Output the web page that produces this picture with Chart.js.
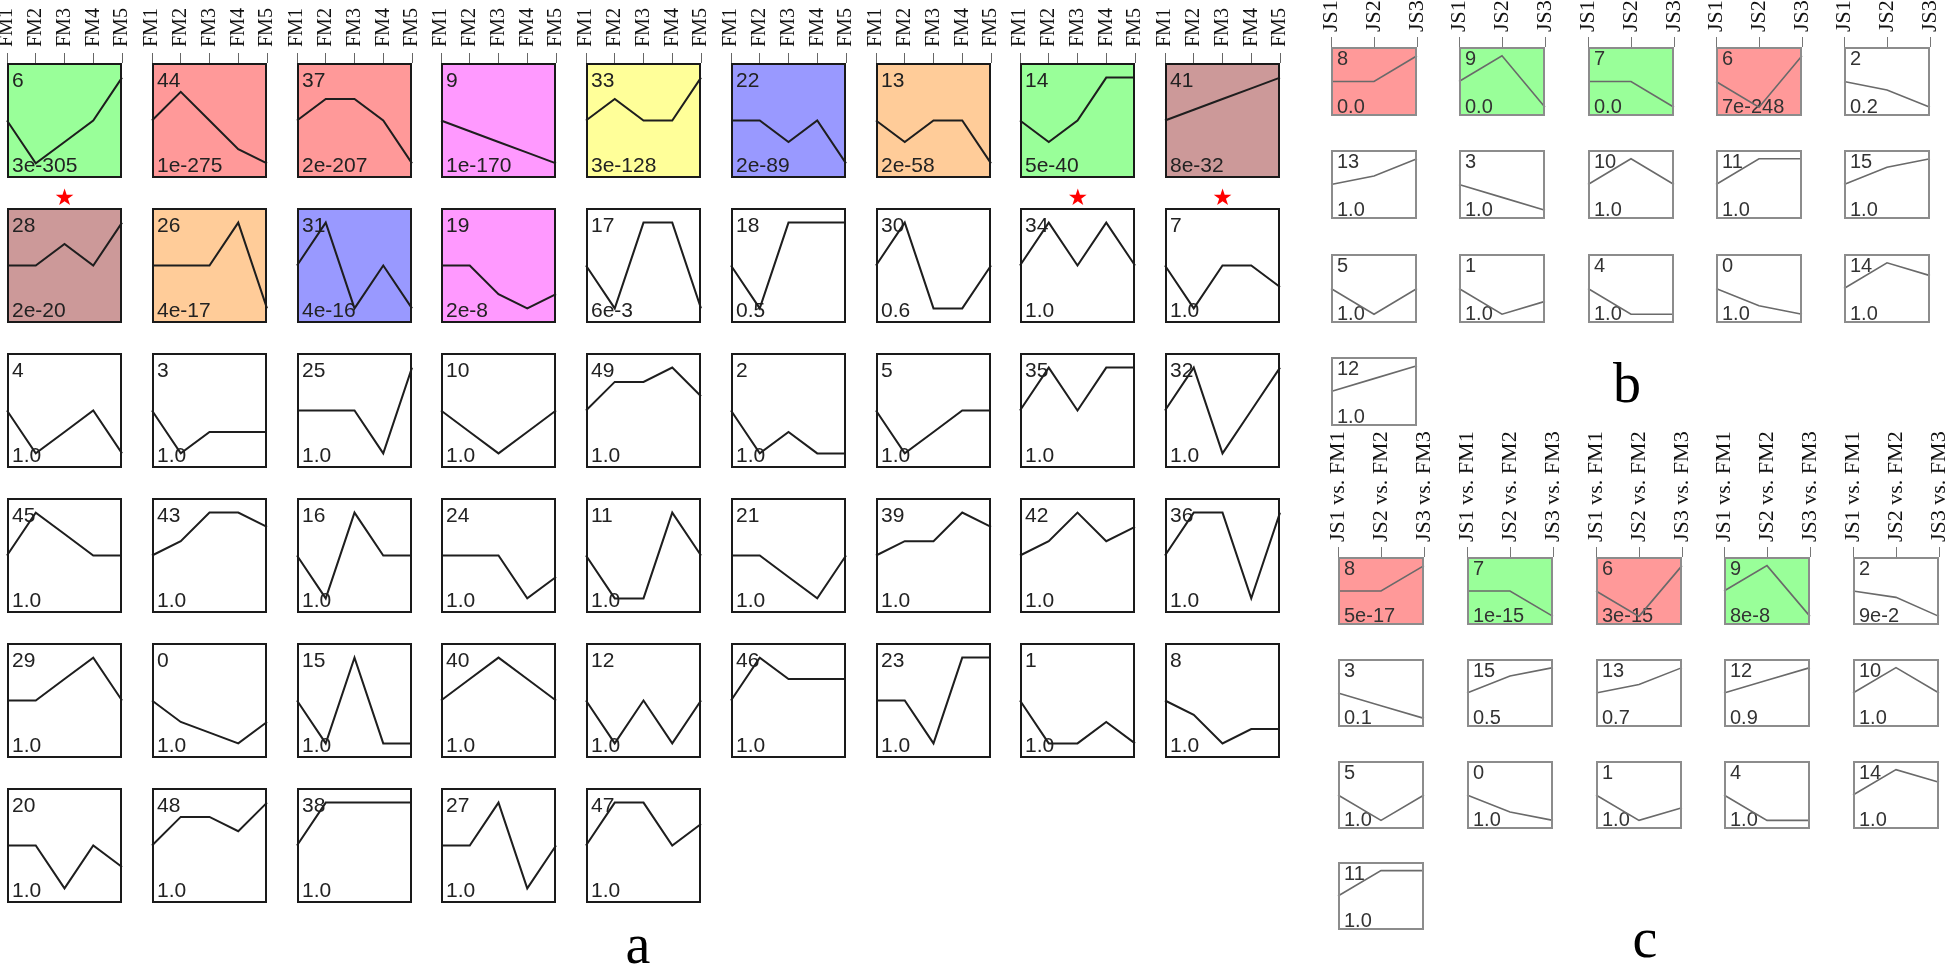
<!DOCTYPE html>
<html>
<head>
<meta charset="utf-8">
<title>STEM profiles</title>
<script src="https://cdn.jsdelivr.net/npm/chart.js@4.4.1/dist/chart.umd.min.js"></script>
<style>
  html, body { margin: 0; padding: 0; background: #fff; }
  #page { position: relative; width: 1946px; height: 971px; overflow: hidden; }
  #page canvas { position: absolute; }
  .star { position: absolute; color: #ff0000; font: 23px "DejaVu Sans", sans-serif; line-height: 1; transform: translate(-50%, -50%); }
  .panel-label { position: absolute; font-family: "Liberation Serif", "Times New Roman", serif; font-size: 56px; line-height: 1; transform: translateX(-50%); }
</style>
</head>
<body>
<div id="page"></div>
<script>
// ---- panel a: 5 time points, 50 model profiles ----
const aTimes = ["FM1", "FM2", "FM3", "FM4", "FM5"];
const aIds = [
  6, 44, 37, 9, 33, 22, 13, 14, 41,
  28, 26, 31, 19, 17, 18, 30, 34, 7,
  4, 3, 25, 10, 49, 2, 5, 35, 32,
  45, 43, 16, 24, 11, 21, 39, 42, 36,
  29, 0, 15, 40, 12, 46, 23, 1, 8,
  20, 48, 38, 27, 47
];
const aPvals = [
  "3e-305", "1e-275", "2e-207", "1e-170", "3e-128", "2e-89", "2e-58", "5e-40", "8e-32",
  "2e-20", "4e-17", "4e-16", "2e-8", "6e-3", "0.5", "0.6", "1.0", "1.0",
  "1.0", "1.0", "1.0", "1.0", "1.0", "1.0", "1.0", "1.0", "1.0",
  "1.0", "1.0", "1.0", "1.0", "1.0", "1.0", "1.0", "1.0", "1.0",
  "1.0", "1.0", "1.0", "1.0", "1.0", "1.0", "1.0", "1.0", "1.0",
  "1.0", "1.0", "1.0", "1.0", "1.0"
];
const aProfiles = [
  [0,-2,-1,0,2], [0,2,0,-2,-3], [0,1,1,0,-2], [0,-1,-2,-3,-4], [0,1,0,0,2], [0,0,-1,0,-2], [0,-1,0,0,-2], [0,-1,0,2,2], [0,1,2,3,4],
  [0,0,1,0,2], [0,0,0,2,-2], [0,1,-1,0,-1], [0,0,-2,-3,-2], [0,-1,1,1,-1], [0,-1,1,1,1], [0,1,-1,-1,0], [0,1,0,1,0], [0,-2,0,0,-1],
  [0,-2,-1,0,-2], [0,-2,-1,-1,-1], [0,0,0,-1,1], [0,-1,-2,-1,0], [0,2,2,3,1], [0,-2,-1,-2,-2], [0,-2,-1,0,0], [0,1,0,1,1], [0,1,-1,0,1],
  [0,2,1,0,0], [0,1,3,3,2], [0,-1,1,0,0], [0,0,0,-2,-1], [0,-1,-1,1,0], [0,0,-1,-2,0], [0,1,1,3,2], [0,1,3,1,2], [0,1,1,-1,1],
  [0,0,1,2,0], [0,-2,-3,-4,-2], [0,-1,1,-1,-1], [0,1,2,1,0], [0,-1,0,-1,0], [0,2,1,1,1], [0,0,-1,1,1], [0,-2,-2,-1,-2], [0,-1,-3,-2,-2],
  [0,0,-2,0,-1], [0,2,2,1,3], [0,1,1,1,1], [0,0,1,-1,0], [0,2,2,0,1]
];
// significant clusters share a colour group
const aGroups = [
  "green", "red", "red", "magenta", "yellow", "blue", "orange", "green", "brown",
  "brown", "orange", "blue", "magenta"
];
const aStarred = [6, 14, 41];

// ---- panel b: 3 time points ----
const bTimes = ["JS1", "JS2", "JS3"];
const bIds = [8, 9, 7, 6, 2, 13, 3, 10, 11, 15, 5, 1, 4, 0, 14, 12];
const bPvals = ["0.0", "0.0", "0.0", "7e-248", "0.2", "1.0", "1.0", "1.0", "1.0", "1.0", "1.0", "1.0", "1.0", "1.0", "1.0", "1.0"];
const bProfiles = [
  [0,0,1], [0,1,-1], [0,0,-1], [0,-1,1], [0,-1,-3],
  [0,1,3], [0,-1,-2], [0,1,0], [0,1,1], [0,2,3],
  [0,-1,0], [0,-2,-1], [0,-1,-1], [0,-2,-3], [0,2,1],
  [0,1,2]
];
const bGroups = ["red", "green", "green", "red"];

// ---- panel c: paired comparisons ----
const cTimes = ["JS1 vs. FM1", "JS2 vs. FM2", "JS3 vs. FM3"];
const cIds = [8, 7, 6, 9, 2, 3, 15, 13, 12, 10, 5, 0, 1, 4, 14, 11];
const cPvals = ["5e-17", "1e-15", "3e-15", "8e-8", "9e-2", "0.1", "0.5", "0.7", "0.9", "1.0", "1.0", "1.0", "1.0", "1.0", "1.0", "1.0"];
const cProfiles = [
  [0,0,1], [0,0,-1], [0,-1,1], [0,1,-1], [0,-1,-4],
  [0,-1,-2], [0,2,3], [0,1,3], [0,1,2], [0,1,0],
  [0,-1,0], [0,-2,-3], [0,-2,-1], [0,-1,-1], [0,2,1],
  [0,1,1]
];
const cGroups = ["red", "green", "red", "green"];

const palette = {
  green: "#99ff99", red: "#ff9999", magenta: "#ff99ff", yellow: "#ffff99",
  blue: "#9999ff", orange: "#ffcc99", brown: "#cc9999"
};

const page = document.getElementById("page");

// box fill, border and the two labels inside each profile
const boxDecor = {
  id: "boxDecor",
  beforeDraw(chart, args, o) {
    if (!o.fill) return;
    const a = chart.chartArea, ctx = chart.ctx;
    ctx.save();
    ctx.fillStyle = o.fill;
    ctx.fillRect(a.left, a.top, a.right - a.left, a.bottom - a.top);
    ctx.restore();
  },
  beforeDatasetsDraw(chart, args, o) {
    const a = chart.chartArea, ctx = chart.ctx;
    ctx.save();
    ctx.fillStyle = o.textColor;
    ctx.font = `${o.fontSize}px "Liberation Sans", Arial, sans-serif`;
    ctx.textAlign = "left";
    ctx.textBaseline = "alphabetic";
    ctx.fillText(String(o.id), a.left + o.textX, a.top + o.topBase);
    ctx.fillText(o.pval, a.left + o.textX, a.bottom - o.botBase);
    ctx.restore();
  },
  afterDraw(chart, args, o) {
    const a = chart.chartArea, ctx = chart.ctx, bw = o.borderW;
    ctx.save();
    ctx.strokeStyle = o.border;
    ctx.lineWidth = bw;
    ctx.strokeRect(a.left + bw / 2, a.top + bw / 2, a.right - a.left - bw, a.bottom - a.top - bw);
    ctx.restore();
  }
};

const styleA = { line: "#1e1e1e", lineW: 2, border: "#1a1a1a", borderW: 2, tick: "#666", axisFont: 20, axisPad: 6,
                 textColor: "#222", fontSize: 21, textX: 5, topBase: 24, botBase: 6 };
const styleB = { line: "#6a6a6a", lineW: 1.6, border: "#8c8c8c", borderW: 2, tick: "#777", axisFont: 22, axisPad: 5,
                 textColor: "#333", fontSize: 20, textX: 6, topBase: 18, botBase: 3 };

function addCell(spec) {
  const { x, y, w, h, labels, values, id, pval, fill, st, axisH } = spec;
  const pad = 16;
  const top = axisH ? y - axisH : y - pad;
  const cw = w + 2 * pad;
  const ch = (axisH || pad) + h + pad;
  const canvas = document.createElement("canvas");
  canvas.width = cw;
  canvas.height = ch;
  canvas.style.left = (x - pad) + "px";
  canvas.style.top = top + "px";
  canvas.style.width = cw + "px";
  canvas.style.height = ch + "px";
  page.appendChild(canvas);

  const m = Math.max(...values.map(Math.abs)) || 1;
  new Chart(canvas, {
    type: "line",
    data: {
      labels,
      datasets: [{
        data: values, borderColor: st.line, borderWidth: st.lineW,
        pointRadius: 0, tension: 0, fill: false
      }]
    },
    options: {
      responsive: false, animation: false, devicePixelRatio: 1, events: [],
      layout: { padding: { left: pad, right: pad, top: axisH ? 0 : pad, bottom: pad } },
      plugins: {
        legend: { display: false },
        tooltip: { enabled: false },
        boxDecor: {
          fill, id, pval, border: st.border, borderW: st.borderW, textColor: st.textColor,
          fontSize: st.fontSize, textX: st.textX, topBase: st.topBase, botBase: st.botBase
        }
      },
      scales: {
        x: {
          type: "category", position: "top", display: !!axisH, offset: false,
          grid: { drawOnChartArea: false, drawTicks: true, tickLength: 10, color: st.tick, lineWidth: 1 },
          border: { display: false },
          ticks: {
            autoSkip: false, minRotation: 90, maxRotation: 90, padding: st.axisPad,
            // rotated labels on a top axis sit one line to the left; put them back on the tick
            labelOffset: st.axisFont * 1.2,
            color: "#111",
            font: { family: '"Liberation Serif", "Times New Roman", serif', size: st.axisFont, lineHeight: 1.2 }
          },
          afterFit(s) {
            if (!axisH) return;
            s.height = axisH;
            s.paddingLeft = 0;
            s.paddingRight = 0;
          }
        },
        y: { display: false, min: -m * 1.34, max: m * 1.34 }
      }
    },
    plugins: [boxDecor]
  });
}

// panel a grid
aIds.forEach((id, i) => {
  const col = i % 9, row = Math.floor(i / 9);
  addCell({
    x: Math.round(7 + 144.75 * col), y: 63 + 145 * row, w: 115, h: 115,
    labels: aTimes, values: aProfiles[i], id, pval: aPvals[i],
    fill: aGroups[i] ? palette[aGroups[i]] : null, st: styleA,
    axisH: row === 0 ? 63 : 0
  });
});

// panel b grid
bIds.forEach((id, i) => {
  const col = i % 5, row = Math.floor(i / 5);
  addCell({
    x: Math.round(1331 + 128.25 * col), y: Math.round(47 + 103.3 * row), w: 86, h: 69,
    labels: bTimes, values: bProfiles[i], id, pval: bPvals[i],
    fill: bGroups[i] ? palette[bGroups[i]] : null, st: styleB,
    axisH: row === 0 ? 47 : 0
  });
});

// panel c grid
cIds.forEach((id, i) => {
  const col = i % 5, row = Math.floor(i / 5);
  addCell({
    x: Math.round(1338 + 128.75 * col), y: Math.round(557 + 101.8 * row), w: 86, h: 68,
    labels: cTimes, values: cProfiles[i], id, pval: cPvals[i],
    fill: cGroups[i] ? palette[cGroups[i]] : null, st: styleB,
    axisH: row === 0 ? 125 : 0
  });
});

// red stars under the highlighted clusters of panel a
aStarred.forEach(id => {
  const i = aIds.indexOf(id);
  const col = i % 9, row = Math.floor(i / 9);
  const s = document.createElement("div");
  s.className = "star";
  s.textContent = "★";
  s.style.left = (7 + 144.75 * col + 57.5) + "px";
  s.style.top = (63 + 145 * row + 134) + "px";
  page.appendChild(s);
});

// panel letters
[["a", 638, 916], ["b", 1627, 355], ["c", 1645, 910]].forEach(([t, x, y]) => {
  const d = document.createElement("div");
  d.className = "panel-label";
  d.textContent = t;
  d.style.left = x + "px";
  d.style.top = y + "px";
  page.appendChild(d);
});
</script>
</body>
</html>
